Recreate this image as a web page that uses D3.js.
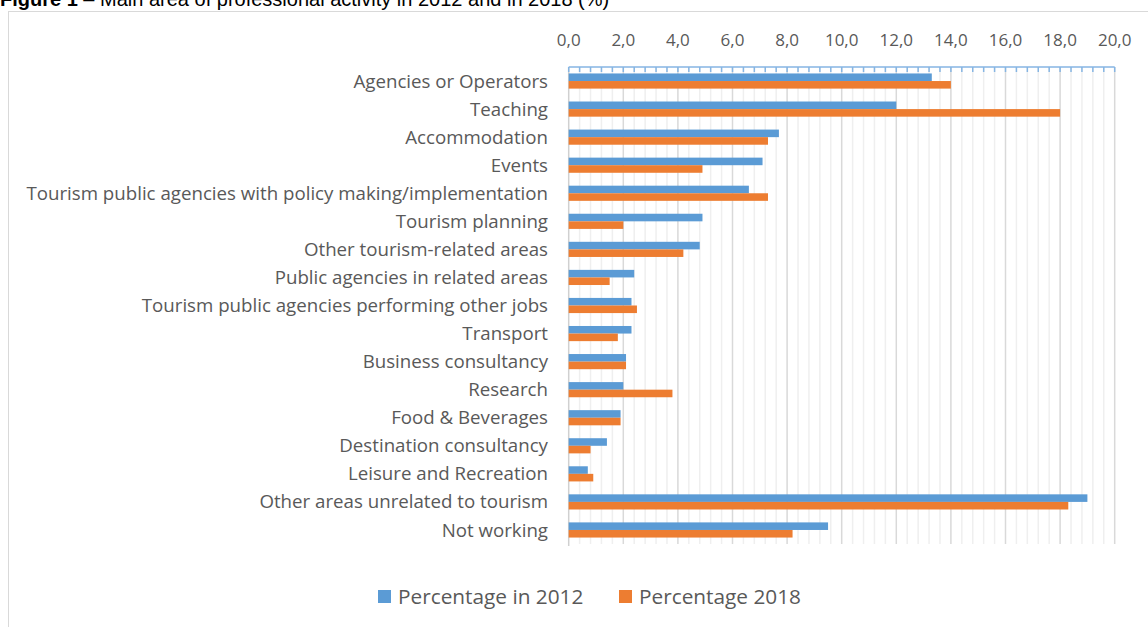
<!DOCTYPE html>
<html>
<head>
<meta charset="utf-8">
<script src="https://cdn.jsdelivr.net/npm/d3@7"></script>
<style>
  html, body { margin: 0; padding: 0; background: #fff; }
  svg { display: block; }
</style>
</head>
<body>
<svg id="chart" width="1148" height="627"></svg>
<script>
// Categories, top to bottom
const categories = [
  "Agencies or Operators",
  "Teaching",
  "Accommodation",
  "Events",
  "Tourism public agencies with policy making/implementation",
  "Tourism planning",
  "Other tourism-related areas",
  "Public agencies in related areas",
  "Tourism public agencies performing other jobs ",
  "Transport",
  "Business consultancy",
  "Research",
  "Food & Beverages",
  "Destination consultancy",
  "Leisure and Recreation",
  "Other areas unrelated to tourism ",
  "Not working"
];

// Share of respondents (%) per category
const values2012 = [13.3, 12.0, 7.7, 7.1, 6.6, 4.9, 4.8, 2.4, 2.3, 2.3, 2.1, 2.0, 1.9, 1.4, 0.7, 19.0, 9.5];
const values2018 = [14.0, 18.0, 7.3, 4.9, 7.3, 2.0, 4.2, 1.5, 2.5, 1.8, 2.1, 3.8, 1.9, 0.8, 0.9, 18.3, 8.2];

const seriesNames = ["Percentage in 2012", "Percentage 2018"];
const seriesColors = ["#5B9BD5", "#ED7D31"];
const tickValues = [0, 2, 4, 6, 8, 10, 12, 14, 16, 18, 20];

const rows = categories.map((c, i) => ({ category: c, v: [values2012[i], values2018[i]] }));

const svg = d3.select("#chart");
const textColor = "#595959";
const labelFont = "'Open Sans', sans-serif";

// Chart frame
svg.append("rect")
  .attr("x", 8.5).attr("y", 11.5)
  .attr("width", 1160).attr("height", 640)
  .attr("fill", "#fff").attr("stroke", "#d9d9d9").attr("stroke-width", 1);

// Figure caption
const title = svg.append("text")
  .attr("x", 0).attr("y", 6)
  .attr("font-family", "'Liberation Sans', Arial, sans-serif")
  .attr("font-size", 20).attr("fill", "#000");
title.append("tspan").attr("font-weight", "bold").text("Figure 1");
title.append("tspan").text(" \u2013 Main area of professional activity in 2012 and in 2018 (%)");

// Scales
const x = d3.scaleLinear().domain([0, 20]).range([568.7, 1114.7]);
const y = d3.scaleBand().domain(categories).range([67, 544]).paddingInner(0.46).paddingOuter(0.23);
const ySub = d3.scaleBand().domain([0, 1]).range([0, y.bandwidth()]);

const plotTop = 67, plotBottom = 544;

// Minor gridlines (every 0.4)
const minorTicks = d3.range(0, 50).map(i => i * 0.4).filter(v => Math.abs(v / 2 - Math.round(v / 2)) > 1e-6);
svg.append("g").selectAll("line").data(minorTicks).join("line")
  .attr("x1", d => x(d)).attr("x2", d => x(d))
  .attr("y1", plotTop).attr("y2", plotBottom)
  .attr("stroke", "#efefef").attr("stroke-width", 1.5);

// Major gridlines
svg.append("g").selectAll("line").data(tickValues.slice(1)).join("line")
  .attr("x1", d => x(d)).attr("x2", d => x(d))
  .attr("y1", plotTop).attr("y2", plotBottom)
  .attr("stroke", "#d9d9d9").attr("stroke-width", 1.5);

// Category axis line
svg.append("line")
  .attr("x1", x(0)).attr("x2", x(0))
  .attr("y1", plotTop).attr("y2", plotBottom + 2)
  .attr("stroke", "#d0d0d0").attr("stroke-width", 1.5);

// Bars
const groups = svg.append("g").selectAll("g").data(rows).join("g")
  .attr("transform", d => `translate(0,${y(d.category)})`);
groups.selectAll("rect").data(d => d.v.map((v, k) => ({ v, k }))).join("rect")
  .attr("x", x(0))
  .attr("y", d => ySub(d.k))
  .attr("width", d => x(d.v) - x(0))
  .attr("height", ySub.bandwidth())
  .attr("fill", d => seriesColors[d.k]);

// Top value axis with minor ticks
const topAxis = svg.append("g").attr("transform", `translate(0,${plotTop})`);
topAxis.append("line")
  .attr("x1", x(0)).attr("x2", x(20))
  .attr("stroke", "#86b5e3").attr("stroke-width", 1.5);
topAxis.selectAll("line.tick").data(d3.range(0, 51).map(i => i * 0.4)).join("line")
  .attr("class", "tick")
  .attr("x1", d => x(d)).attr("x2", d => x(d))
  .attr("y1", 0).attr("y2", 5)
  .attr("stroke", "#86b5e3").attr("stroke-width", 1.5);

const fmt = d => d3.format(".1f")(d).replace(".", ",");
svg.append("g").selectAll("text").data(tickValues).join("text")
  .attr("x", d => x(d)).attr("y", 46)
  .attr("text-anchor", "middle")
  .attr("font-family", labelFont).attr("font-size", 17)
  .attr("fill", textColor)
  .text(fmt);

// Category labels
svg.append("g").selectAll("text").data(categories).join("text")
  .attr("x", 548)
  .attr("y", d => y(d) + y.bandwidth() / 2)
  .attr("dy", "0.35em")
  .attr("text-anchor", "end")
  .attr("font-family", labelFont).attr("font-size", 18.7)
  .attr("fill", textColor)
  .text(d => d);

// Legend
const legendX = [378, 619];
const legend = svg.append("g").selectAll("g").data(seriesNames).join("g")
  .attr("transform", (d, i) => `translate(${legendX[i]},590)`);
legend.append("rect").attr("width", 13).attr("height", 13)
  .attr("fill", (d, i) => seriesColors[i]);
legend.append("text")
  .attr("x", 20).attr("y", 6.5).attr("dy", "0.36em")
  .attr("font-family", labelFont).attr("font-size", 20.8)
  .attr("fill", textColor)
  .text(d => d);
</script>
</body>
</html>
